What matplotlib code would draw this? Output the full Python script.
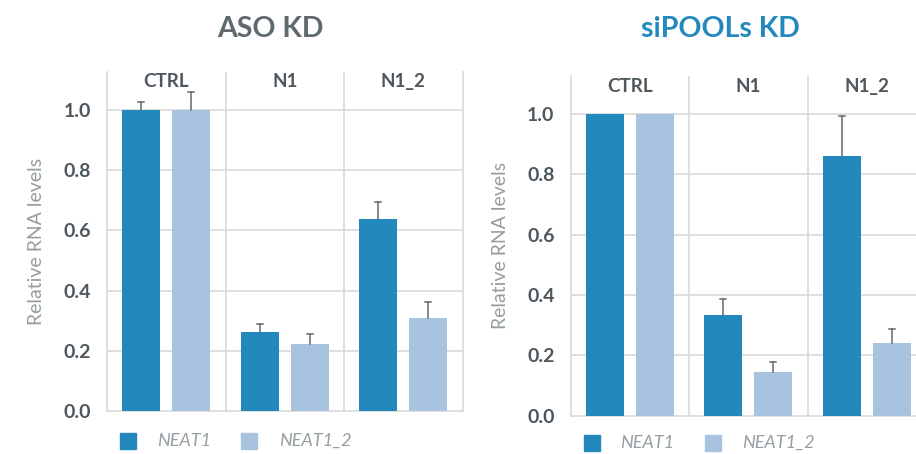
import matplotlib
matplotlib.use('Agg')
import matplotlib.pyplot as plt
from matplotlib.patches import Rectangle
import numpy as np

plt.rcParams['font.family'] = ['Lato', 'DejaVu Sans']

groups = ['CTRL', 'N1', 'N1_2']
series = ['NEAT1', 'NEAT1_2']

# ASO KD panel
aso_neat1 = [1.0, 0.262, 0.638]
aso_neat1_err = [0.025, 0.026, 0.055]
aso_neat12 = [1.0, 0.223, 0.309]
aso_neat12_err = [0.06, 0.034, 0.052]

# siPOOLs KD panel
sip_neat1 = [1.0, 0.333, 0.860]
sip_neat1_err = [0.0, 0.053, 0.135]
sip_neat12 = [1.0, 0.145, 0.241]
sip_neat12_err = [0.0, 0.033, 0.047]

yticks = [0.0, 0.2, 0.4, 0.6, 0.8, 1.0]

c1 = '#2389bd'
c2 = '#a8c3df'
grid_c = '#d9d9d9'
text_c = '#4d575d'
err_c = '#5e6a72'

W, H = 916, 454
fig = plt.figure(figsize=(W / 100, H / 100), dpi=100)


def err_up(ax, xs, vals, errs):
    # only the upper half of each error bar, skipped where there is none
    for xi, v, e in zip(xs, vals, errs):
        if e > 0:
            ax.plot([xi, xi], [v, v + e], color=err_c, lw=1.1, zorder=4)
            ax.plot([xi - 0.025, xi + 0.025], [v + e, v + e], color=err_c, lw=1.1, zorder=4)


def panel(rect, v1, e1, v2, e2, title, title_color, title_x, leg_y, head_y):
    x0, ytop, x1, ybot = rect
    ax = fig.add_axes([x0 / W, (H - ybot) / H, (x1 - x0) / W, (ybot - ytop) / H])
    x = np.arange(len(groups))
    off, bw = 0.21, 0.32
    ax.bar(x - off, v1, bw, color=c1, zorder=3)
    ax.bar(x + off, v2, bw, color=c2, zorder=3)
    err_up(ax, x - off, v1, e1)
    err_up(ax, x + off, v2, e2)
    ax.set_xlim(-0.5, 2.5)
    ax.set_ylim(0, 1.126)
    ax.set_yticks(yticks)
    ax.set_yticklabels(['%.1f' % t for t in yticks], fontsize=14, fontweight='bold', color=text_c)
    ax.tick_params(axis='y', length=0, pad=11.5)
    ax.set_xticks([])
    for yv in yticks[1:]:
        ax.axhline(yv, color=grid_c, lw=1.2, zorder=1)
    for xv in [0.5, 1.5]:
        ax.axvline(xv, color=grid_c, lw=1.2, zorder=1)
    for s in ['left', 'right', 'bottom']:
        ax.spines[s].set_color(grid_c)
        ax.spines[s].set_linewidth(1.2)
    ax.spines['top'].set_visible(False)
    for i, g in enumerate(groups):
        ax.text(i, head_y, g, ha='center', va='center', fontsize=13.5,
                fontweight='bold', color=text_c)
    ax.set_ylabel('Relative RNA levels', fontsize=14, color='#949da2', labelpad=13)
    fig.text(title_x / W, 1 - 29 / H, title, ha='center', va='center',
             fontsize=20.5, fontweight='bold', color=title_color)
    # legend
    for sx, tx, col, lab in [(x0 + 13, x0 + 50, c1, series[0]), (x0 + 134, x0 + 172, c2, series[1])]:
        fig.patches.append(Rectangle((sx / W, 1 - (leg_y + 8) / H), 16 / W, 16 / H,
                                     transform=fig.transFigure, color=col))
        fig.text(tx / W, 1 - leg_y / H, lab, ha='left', va='center', fontsize=13,
                 style='italic', color='#959ea3')
    return ax


panel((107, 72, 462.5, 411), aso_neat1, aso_neat1_err, aso_neat12, aso_neat12_err,
      'ASO KD', '#5f6a70', 270, 441, 1.096)
panel((570.5, 76, 926, 415.7), sip_neat1, sip_neat1_err, sip_neat12, sip_neat12_err,
      'siPOOLs KD', c1, 720, 443, 1.092)

fig.savefig('out.png', dpi=100)
